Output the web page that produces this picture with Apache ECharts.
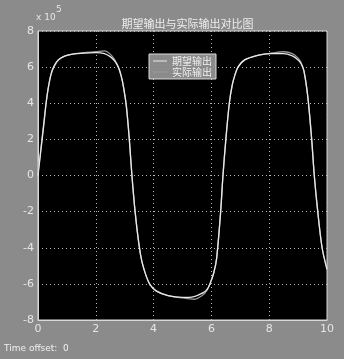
<!DOCTYPE html>
<html><head><meta charset="utf-8">
<script src="https://cdn.jsdelivr.net/npm/echarts@6/dist/echarts.min.js"></script>
<style>html,body{margin:0;padding:0;background:#8b8b8b;}#c{width:344px;height:359px;}</style>
</head><body><div id="c"></div>
<script>
const titleText = '期望输出与实际输出对比图';
const seriesNames = ['期望输出', '实际输出'];
const xTicks = [0, 2, 4, 6, 8, 10];
const yTicks = [-8, -6, -4, -2, 0, 2, 4, 6, 8];
const times = [0, 0.05, 0.1, 0.15, 0.2, 0.28, 0.35, 0.45, 0.55, 0.7, 0.9, 1.2, 1.6, 2.0, 2.3, 2.5, 2.65, 2.78, 2.88, 2.97, 3.06, 3.16, 3.25, 3.36, 3.5, 3.6, 3.75, 3.88, 4.1, 4.5, 5.0, 5.4, 5.7, 5.85, 5.95, 6.08, 6.18, 6.32, 6.4, 6.5, 6.62, 6.72, 6.82, 6.92, 7.15, 7.6, 8.0, 8.5, 8.8, 9.0, 9.1, 9.2, 9.34, 9.47, 9.56, 9.68, 9.83, 10];
const desired = [0, 0.7, 1.4, 2.1, 2.8, 4.0, 4.8, 5.6, 6.05, 6.4, 6.6, 6.72, 6.78, 6.8, 6.75, 6.58, 6.35, 6.0, 5.5, 4.8, 3.8, 2.0, 0, -2.0, -3.9, -4.8, -5.6, -6.05, -6.4, -6.65, -6.75, -6.7, -6.5, -6.3, -6.0, -5.4, -4.6, -2.0, 0, 2.0, 4.0, 5.0, 5.6, 6.0, 6.4, 6.65, 6.75, 6.75, 6.62, 6.4, 6.2, 5.8, 4.3, 2.0, 0, -2.0, -4.0, -5.2];
const actual = [0.2, 0.8, 1.5, 2.2, 2.9, 4.0, 4.8, 5.6, 6.0, 6.38, 6.6, 6.72, 6.8, 6.85, 6.9, 6.72, 6.42, 6.0, 5.5, 4.8, 3.8, 2.0, 0, -2.0, -3.9, -4.8, -5.6, -6.05, -6.4, -6.65, -6.78, -6.85, -6.62, -6.35, -6.0, -5.4, -4.6, -2.0, 0, 2.0, 4.0, 5.0, 5.6, 6.0, 6.4, 6.65, 6.75, 6.85, 6.75, 6.5, 6.25, 5.8, 4.3, 2.0, 0, -2.0, -4.0, -5.2];

const chart = echarts.init(document.getElementById('c'), null, {renderer: 'canvas'});
const pairs = (vals) => times.map((t, i) => [t, vals[i]]);
const gridL = 38, gridT = 31, gridW = 289, gridH = 289;
chart.setOption({
  backgroundColor: '#8b8b8b',
  animation: false,
  title: {
    text: titleText, left: gridL + gridW / 2, top: 13, textAlign: 'center',
    textStyle: {color: '#eeeeee', fontSize: 11, fontWeight: 'normal', fontFamily: 'Noto Sans CJK SC'}
  },
  legend: {
    data: seriesNames, orient: 'vertical', left: 149, top: 54,
    backgroundColor: '#8b8b8b', borderColor: '#dddddd', borderWidth: 1,
    padding: [2, 4, 2, 4], itemGap: 1, itemWidth: 14, itemHeight: 10,
    textStyle: {color: '#f0f0f0', fontSize: 10, fontFamily: 'Noto Sans CJK SC'},
    icon: 'path://M0,5L14,5L14,6L0,6Z'
  },
  grid: {left: gridL, top: gridT, width: gridW, height: gridH, show: true, backgroundColor: '#000000', borderColor: '#d8d8d8', borderWidth: 1},
  xAxis: {
    type: 'value', min: xTicks[0], max: xTicks[xTicks.length - 1], interval: 2,
    axisLine: {show: true, onZero: false, lineStyle: {color: '#d8d8d8'}},
    axisTick: {show: false},
    axisLabel: {color: '#e6e6e6', fontSize: 11, margin: 4, fontFamily: 'DejaVu Sans'},
    splitLine: {show: true, lineStyle: {color: '#bbbbbb', type: [1, 3], width: 1}}
  },
  yAxis: {
    type: 'value', min: yTicks[0], max: yTicks[yTicks.length - 1], interval: 2,
    axisLine: {show: true, onZero: false, lineStyle: {color: '#d8d8d8'}},
    axisTick: {show: false},
    axisLabel: {color: '#e6e6e6', fontSize: 11, margin: 4, fontFamily: 'DejaVu Sans'},
    splitLine: {show: true, lineStyle: {color: '#bbbbbb', type: [1, 3], width: 1}}
  },
  graphic: [
    {type: 'text', left: 36, top: 13, style: {text: 'x 10', fill: '#e6e6e6', font: '9px DejaVu Sans'}},
    {type: 'text', left: 56, top: 5, style: {text: '5', fill: '#e6e6e6', font: '9px DejaVu Sans'}},
    {type: 'text', left: 4, top: 344, style: {text: 'Time offset:  0', fill: '#f0f0f0', font: '9px DejaVu Sans'}}
  ],
  series: [
    {name: seriesNames[0], type: 'line', data: pairs(desired), showSymbol: false, smooth: 0.3, lineStyle: {color: '#e8e8e8', width: 1.3}, itemStyle: {color: '#e8e8e8'}, z: 3},
    {name: seriesNames[1], type: 'line', data: pairs(actual), showSymbol: false, smooth: 0.3, lineStyle: {color: '#9a9a9a', width: 1.3}, itemStyle: {color: '#9a9a9a'}, z: 2}
  ]
});
</script></body></html>
